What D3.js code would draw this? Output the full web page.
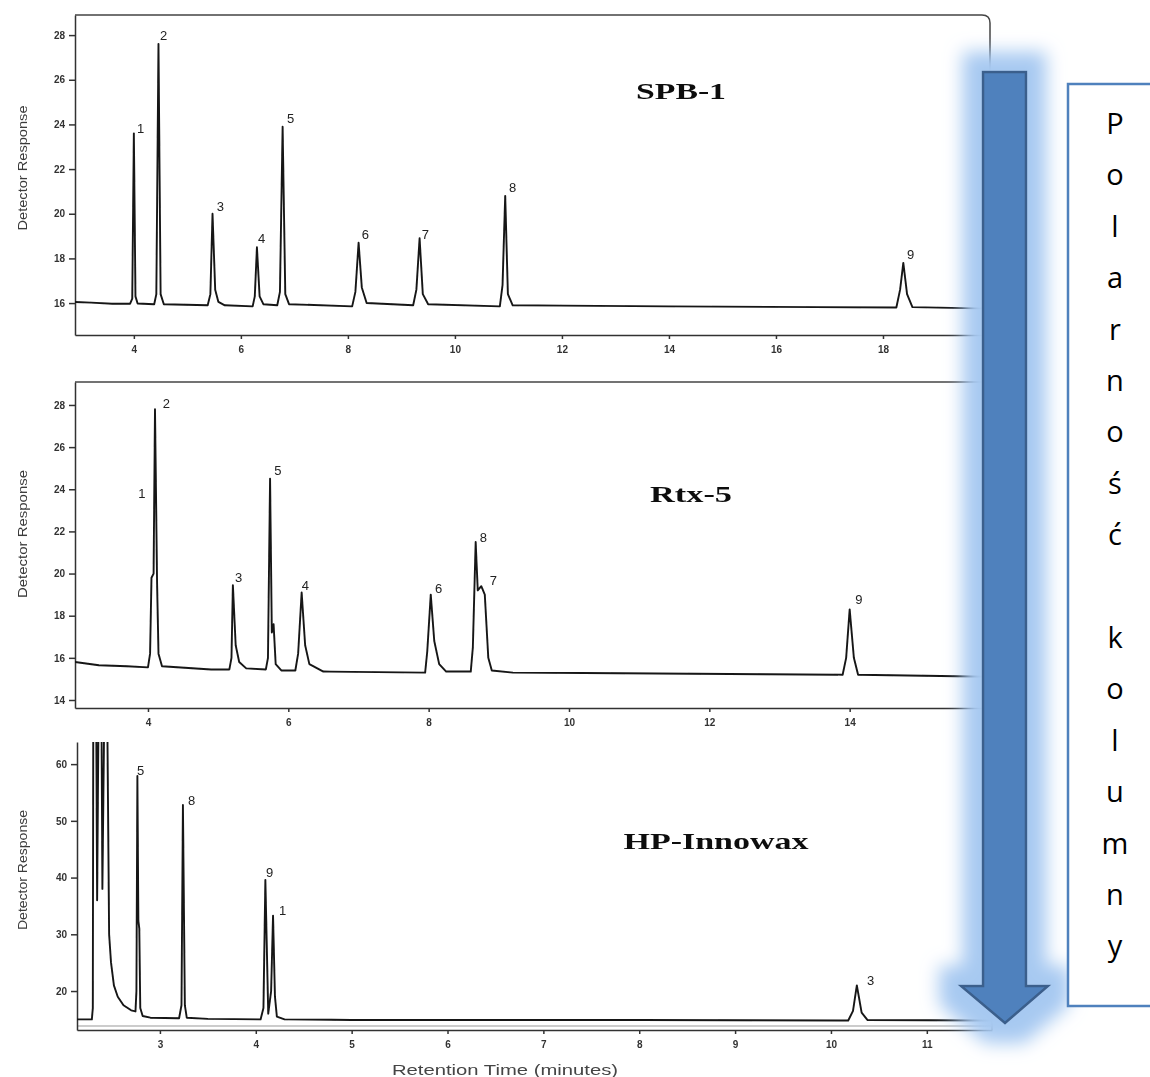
<!DOCTYPE html>
<html>
<head>
<meta charset="utf-8">
<script src="https://cdn.jsdelivr.net/npm/d3@7"></script>
<style>
  body { margin: 0; background: #fff; }
  svg { display: block; }
</style>
</head>
<body>
<div class="chart"></div>
<script>
// SPB-1 trace (retention time, minutes / detector response)
const spbTime = [2.9, 3.2, 3.6, 3.93, 3.97, 4.0, 4.03, 4.07, 4.38, 4.42, 4.46, 4.5, 4.56,
  5.38, 5.43, 5.47, 5.52, 5.58, 5.7, 6.22, 6.26, 6.3, 6.35, 6.42, 6.68, 6.73, 6.78, 6.83, 6.9,
  8.08, 8.14, 8.2, 8.26, 8.35, 9.22, 9.28, 9.34, 9.4, 9.5, 10.84, 10.89, 10.94, 10.99, 11.08,
  14, 18.25, 18.32, 18.38, 18.45, 18.55, 20.0];
const spbResp = [16.05, 16.02, 15.97, 15.97, 16.2, 23.6, 16.3, 15.98, 15.95, 16.4, 27.6, 16.4, 15.95,
  15.9, 16.4, 20.0, 16.6, 16.05, 15.9, 15.85, 16.3, 18.5, 16.3, 15.95, 15.9, 16.5, 23.9, 16.4, 15.95,
  15.85, 16.5, 18.7, 16.7, 16.0, 15.9, 16.6, 18.9, 16.4, 15.95, 15.85, 16.8, 20.8, 16.4, 15.9,
  15.85, 15.8, 16.6, 17.8, 16.4, 15.82, 15.75];
const spbLabelId = ['1', '2', '3', '4', '5', '6', '7', '8', '9'];
const spbLabelTime = [4.06, 4.49, 5.55, 6.32, 6.86, 8.26, 9.38, 11.01, 18.45];
const spbLabelResp = [23.62, 27.78, 20.12, 18.69, 24.06, 18.87, 18.87, 20.97, 17.97];
const spbXTicks = [4, 6, 8, 10, 12, 14, 16, 18];
const spbYTicks = [16, 18, 20, 22, 24, 26, 28];

// Rtx-5 trace
const rtxTime = [2.96, 3.3, 3.7, 4.0, 4.03, 4.05, 4.08, 4.1, 4.13, 4.15, 4.2, 4.9, 5.16, 5.19,
  5.21, 5.25, 5.3, 5.4, 5.68, 5.71, 5.74, 5.765, 5.79, 5.82, 5.9, 6.1, 6.14, 6.19, 6.24, 6.3, 6.5,
  7.95, 7.98, 8.03, 8.08, 8.15, 8.25, 8.6, 8.63, 8.67, 8.7, 8.75, 8.8, 8.85, 8.9, 9.2,
  13.9, 13.95, 14.0, 14.06, 14.12, 16.0];
const rtxResp = [15.8, 15.65, 15.6, 15.55, 16.2, 19.8, 20.0, 27.8, 19.5, 16.2, 15.6, 15.45, 15.45, 16.0,
  19.45, 16.6, 15.8, 15.5, 15.45, 16.0, 24.5, 17.2, 17.6, 15.7, 15.4, 15.4, 16.2, 19.1, 16.6, 15.7, 15.35,
  15.3, 16.3, 19.0, 16.8, 15.7, 15.35, 15.35, 16.5, 21.5, 19.2, 19.4, 19.0, 16.0, 15.4, 15.3,
  15.2, 16.0, 18.3, 16.0, 15.2, 15.1];
const rtxLabelId = ['1', '2', '3', '5', '4', '6', '8', '7', '9'];
const rtxLabelTime = [3.86, 4.21, 5.24, 5.80, 6.19, 8.09, 8.73, 8.87, 14.08];
const rtxLabelResp = [23.59, 27.86, 19.6, 24.68, 19.22, 19.08, 21.5, 19.46, 18.55];
const rtxXTicks = [4, 6, 8, 10, 12, 14];
const rtxYTicks = [14, 16, 18, 20, 22, 24, 26, 28];

// HP-Innowax trace (solvent front runs off scale)
const hpTime = [2.135, 2.29, 2.3, 2.305, 2.335, 2.345, 2.36, 2.39, 2.4, 2.42, 2.45, 2.47, 2.49,
  2.52, 2.56, 2.62, 2.7, 2.745, 2.755, 2.765, 2.775, 2.785, 2.795, 2.82, 2.9, 3.2, 3.225, 3.24,
  3.26, 3.28, 3.5, 4.05, 4.08, 4.1, 4.13, 4.16, 4.18, 4.2, 4.22, 4.3, 5, 8, 10.18, 10.23, 10.27,
  10.32, 10.38, 11.68];
const hpResp = [15.0, 15.0, 17, 70, 70, 36, 70, 70, 38, 70, 70, 30, 25,
  21, 19, 17.5, 16.6, 16.4, 20, 57.9, 32.4, 31, 17, 15.6, 15.3, 15.2, 17.5, 52.8,
  17.5, 15.3, 15.1, 15.0, 17, 39.6, 16, 20, 33.3, 19, 15.5, 15.0, 14.9, 14.9, 14.8, 16.5, 21.0,
  16.2, 14.9, 14.8];
const hpLabelId = ['5', '8', '9', '1', '3'];
const hpLabelTime = [2.761, 3.293, 4.107, 4.242, 10.376];
const hpLabelResp = [58.06, 52.78, 40.09, 33.39, 21.06];
const hpXTicks = [3, 4, 5, 6, 7, 8, 9, 10, 11];
const hpYTicks = [20, 30, 40, 50, 60];

const polarLetters = ['P', 'o', 'l', 'a', 'r', 'n', 'o', 'ś', 'ć', ' ', 'k', 'o', 'l', 'u', 'm', 'n', 'y'];

const width = 1150;
const height = 1077;

const svg = d3.select('div.chart')
    .append('svg')
    .attr('width', width)
    .attr('height', height);

const defs = svg.append('defs');

const soft = defs.append('filter').attr('id', 'soft');
soft.append('feGaussianBlur').attr('stdDeviation', 0.5);

const glow = defs.append('filter')
    .attr('id', 'glow')
    .attr('x', '-150%').attr('y', '-10%')
    .attr('width', '400%').attr('height', '120%');
glow.append('feMorphology')
    .attr('in', 'SourceAlpha').attr('operator', 'dilate').attr('radius', 19).attr('result', 'd');
glow.append('feGaussianBlur').attr('in', 'd').attr('stdDeviation', 9).attr('result', 'b');
glow.append('feFlood').attr('flood-color', '#a7c9f1').attr('result', 'c');
glow.append('feComposite').attr('in', 'c').attr('in2', 'b').attr('operator', 'in').attr('result', 'g');
const merge = glow.append('feMerge');
merge.append('feMergeNode').attr('in', 'g');
merge.append('feMergeNode').attr('in', 'SourceGraphic');

const panels = [
  {
    id: 'spb', title: 'SPB-1', time: spbTime, resp: spbResp,
    labelId: spbLabelId, labelTime: spbLabelTime, labelResp: spbLabelResp,
    xTicks: spbXTicks, yTicks: spbYTicks,
    xDomain: [2.9, 20.0], yDomain: [14.57, 28.9],
    left: 75, right: 990, top: 15, bottom: 335,
    titleX: 681, titleY: 99, titleLen: 90, yTitleY: 168, yTitleLen: 125, frame: 'full'
  },
  {
    id: 'rtx', title: 'Rtx-5', time: rtxTime, resp: rtxResp,
    labelId: rtxLabelId, labelTime: rtxLabelTime, labelResp: rtxLabelResp,
    xTicks: rtxXTicks, yTicks: rtxYTicks,
    xDomain: [2.96, 16.0], yDomain: [13.62, 29.09],
    left: 75, right: 990, top: 382, bottom: 708,
    titleX: 691, titleY: 502, titleLen: 82, yTitleY: 534, yTitleLen: 128, frame: 'top'
  },
  {
    id: 'hp', title: 'HP-Innowax', time: hpTime, resp: hpResp,
    labelId: hpLabelId, labelTime: hpLabelTime, labelResp: hpLabelResp,
    xTicks: hpXTicks, yTicks: hpYTicks,
    xDomain: [2.135, 11.68], yDomain: [13.13, 63.9],
    left: 77, right: 992, top: 742, bottom: 1030,
    titleX: 716, titleY: 849, titleLen: 185, yTitleY: 870, yTitleLen: 120, frame: 'none'
  }
];

panels.forEach(function(p) {
  const x = d3.scaleLinear().domain(p.xDomain).range([p.left, p.right]);
  const y = d3.scaleLinear().domain(p.yDomain).range([p.bottom, p.top]);

  const g = svg.append('g').attr('filter', 'url(#soft)');

  defs.append('clipPath')
      .attr('id', 'clip-' + p.id)
      .append('rect')
      .attr('x', p.left)
      .attr('y', p.top)
      .attr('width', p.right - p.left)
      .attr('height', p.bottom - p.top);

  // frame
  if (p.frame === 'full') {
    g.append('path')
        .attr('d', `M${p.left},${p.top}H${p.right - 8}Q${p.right},${p.top} ${p.right},${p.top + 8}V${p.bottom}`)
        .attr('fill', 'none').attr('stroke', '#444').attr('stroke-width', 1.5);
  } else if (p.frame === 'top') {
    g.append('line')
        .attr('x1', p.left).attr('x2', p.right)
        .attr('y1', p.top).attr('y2', p.top)
        .attr('stroke', '#444').attr('stroke-width', 1.5);
  } else {
    g.append('line')
        .attr('x1', p.right).attr('x2', p.right)
        .attr('y1', p.bottom - 14).attr('y2', p.bottom)
        .attr('stroke', '#444').attr('stroke-width', 1.5);
    // second faint baseline line just above the axis
    g.append('line')
        .attr('x1', p.left).attr('x2', p.right)
        .attr('y1', p.bottom - 4).attr('y2', p.bottom - 4)
        .attr('stroke', '#999').attr('stroke-width', 1);
  }

  const yAxis = g.append('g')
      .attr('transform', `translate(${p.left},0)`)
      .call(d3.axisLeft(y).tickValues(p.yTicks).tickSize(6).tickSizeOuter(0).tickPadding(4));
  const xAxis = g.append('g')
      .attr('transform', `translate(0,${p.bottom})`)
      .call(d3.axisBottom(x).tickValues(p.xTicks).tickSize(4).tickSizeOuter(0).tickPadding(7));

  [yAxis, xAxis].forEach(function(a) {
    a.selectAll('path, line').attr('stroke', '#333').attr('stroke-width', 1.5);
    a.selectAll('text')
        .attr('font-family', 'Liberation Sans, Arial, sans-serif')
        .attr('font-size', 10)
        .attr('font-weight', 'bold')
        .attr('fill', '#333');
  });

  const line = d3.line()
      .x(function(d, i) { return x(p.time[i]); })
      .y(function(d) { return y(d); });

  g.append('path')
      .datum(p.resp)
      .attr('clip-path', `url(#clip-${p.id})`)
      .attr('d', line)
      .attr('fill', 'none')
      .attr('stroke', '#151515')
      .attr('stroke-width', 1.9)
      .attr('stroke-linejoin', 'round');

  g.selectAll('.peak-' + p.id)
      .data(p.labelId)
      .enter()
      .append('text')
      .attr('class', 'peak-' + p.id)
      .attr('x', function(d, i) { return x(p.labelTime[i]); })
      .attr('y', function(d, i) { return y(p.labelResp[i]); })
      .attr('font-family', 'Liberation Sans, Arial, sans-serif')
      .attr('font-size', 13)
      .attr('fill', '#222')
      .text(function(d) { return d; });

  g.append('text')
      .attr('x', p.titleX)
      .attr('y', p.titleY)
      .attr('text-anchor', 'middle')
      .attr('font-family', 'Liberation Serif, Times New Roman, serif')
      .attr('font-weight', 'bold')
      .attr('font-size', 24)
      .attr('textLength', p.titleLen)
      .attr('lengthAdjust', 'spacingAndGlyphs')
      .attr('fill', '#111')
      .text(p.title);

  g.append('text')
      .attr('transform', `translate(27,${p.yTitleY}) rotate(-90)`)
      .attr('text-anchor', 'middle')
      .attr('font-family', 'Liberation Sans, Arial, sans-serif')
      .attr('font-size', 13)
      .attr('textLength', p.yTitleLen)
      .attr('lengthAdjust', 'spacingAndGlyphs')
      .attr('fill', '#3a3a3a')
      .text('Detector Response');
});

svg.append('text')
    .attr('x', 505)
    .attr('y', 1075)
    .attr('text-anchor', 'middle')
    .attr('font-family', 'Liberation Sans, Arial, sans-serif')
    .attr('font-size', 14)
    .attr('textLength', 226)
    .attr('lengthAdjust', 'spacingAndGlyphs')
    .attr('fill', '#444')
    .attr('filter', 'url(#soft)')
    .text('Retention Time (minutes)');

// arrow with glow
svg.append('polygon')
    .attr('points', [[983, 72], [1026, 72], [1026, 986], [1048, 986], [1005, 1023], [961, 986], [983, 986]]
        .map(function(pt) { return pt.join(','); }).join(' '))
    .attr('fill', '#4f81bd')
    .attr('stroke', '#3a5f8c')
    .attr('stroke-width', 2.5)
    .attr('stroke-linejoin', 'miter')
    .attr('filter', 'url(#glow)');

// text box
svg.append('rect')
    .attr('x', 1068)
    .attr('y', 84)
    .attr('width', 120)
    .attr('height', 922)
    .attr('fill', '#fff')
    .attr('stroke', '#4f81bd')
    .attr('stroke-width', 2.5);

svg.selectAll('.polar')
    .data(polarLetters)
    .enter()
    .append('text')
    .attr('class', 'polar')
    .attr('x', 1115)
    .attr('y', function(d, i) { return 134 + i * 51.4; })
    .attr('text-anchor', 'middle')
    .attr('font-family', 'Open Sans, sans-serif')
    .attr('font-size', 29)
    .attr('fill', '#000')
    .text(function(d) { return d; });
</script>
</body>
</html>
